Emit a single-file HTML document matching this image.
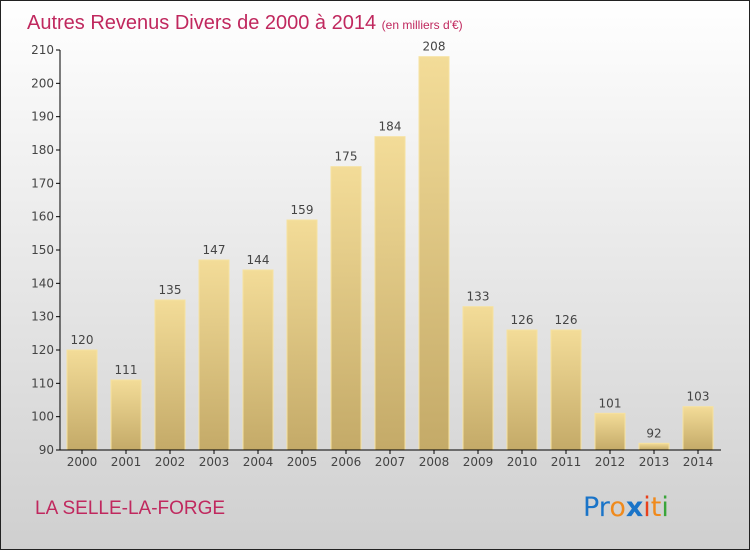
<!DOCTYPE html>
<html><head><meta charset="utf-8"><style>
body{margin:0;}
svg{display:block;font-family:"DejaVu Sans","Liberation Sans",sans-serif;}
</style></head><body>
<svg id="chart" width="750" height="550" viewBox="0 0 750 550">
<defs>
<linearGradient id="bg" x1="0" y1="0" x2="0" y2="1"><stop offset="0" stop-color="#ffffff"/><stop offset="1" stop-color="#cfcfcf"/></linearGradient>
<linearGradient id="bar" x1="0" y1="0" x2="0" y2="1"><stop offset="0" stop-color="#f3dc98"/><stop offset="1" stop-color="#c4aa68"/></linearGradient>
</defs>
<rect x="0.5" y="0.5" width="749" height="549" fill="url(#bg)" stroke="#222"/>
<text x="27" y="29" font-size="20" fill="#c0285e" font-family="'Liberation Sans',sans-serif">Autres Revenus Divers de 2000 à 2014 <tspan font-size="12">(en milliers d'€)</tspan></text>
<g id="yaxis"></g>
<g id="bars"></g>
<g id="xaxis"></g>
<text x="35" y="514" font-size="19" fill="#c0285e" font-family="'Liberation Sans',sans-serif">LA SELLE-LA-FORGE</text>
<text x="583" y="516" font-size="27" font-family="'DejaVu Sans',sans-serif"><tspan fill="#1a74c8">Pr</tspan><tspan fill="#f08a1c">o</tspan><tspan fill="#1a74c8" font-weight="bold">x</tspan><tspan fill="#e8401c">i</tspan><tspan fill="#f08a1c">t</tspan><tspan fill="#3aa53a">i</tspan></text>
</svg>
<script>
const years=["2000","2001","2002","2003","2004","2005","2006","2007","2008","2009","2010","2011","2012","2013","2014"];
const values=[120,111,135,147,144,159,175,184,208,133,126,126,101,92,103];
const yTicks=[90,100,110,120,130,140,150,160,170,180,190,200,210];
const NS="http://www.w3.org/2000/svg";
const yMin=90,yMax=210,plotTop=50,plotBottom=450;
function y(v){return plotBottom-(v-yMin)/(yMax-yMin)*(plotBottom-plotTop);}
function x(i){return 82+i*44;}
function mk(tag,attrs,parent,txt){const e=document.createElementNS(NS,tag);for(const k in attrs)e.setAttribute(k,attrs[k]);if(txt!==undefined)e.textContent=txt;parent.appendChild(e);return e;}
const ya=document.getElementById('yaxis'),ba=document.getElementById('bars'),xa=document.getElementById('xaxis');
mk('line',{x1:60,y1:plotTop,x2:60,y2:plotBottom,stroke:'#000'},ya);
yTicks.forEach(t=>{
 mk('line',{x1:56,y1:y(t),x2:60,y2:y(t),stroke:'#000'},ya);
 const l=mk('text',{x:54,y:y(t)+4,'font-size':12,'text-anchor':'end',fill:'#444'},ya,t);
 
 
});
values.forEach((v,i)=>{
 const r=mk('rect',{x:x(i)-15,y:y(v),width:30,height:plotBottom-y(v),fill:'url(#bar)',stroke:'#f6e2a0','stroke-width':1},ba);
 
 
 const t=mk('text',{x:x(i),y:y(v)-6,'font-size':12,'text-anchor':'middle',fill:'#444'},ba,v);
 
 
 mk('line',{x1:x(i),y1:plotBottom,x2:x(i),y2:plotBottom+4,stroke:'#000'},xa);
 const xl=mk('text',{x:x(i),y:plotBottom+16,'font-size':12,'text-anchor':'middle',fill:'#444'},xa,years[i]);
 
 
});
mk('line',{x1:60,y1:plotBottom,x2:721,y2:plotBottom,stroke:'#000'},xa);
</script>
</body></html>
